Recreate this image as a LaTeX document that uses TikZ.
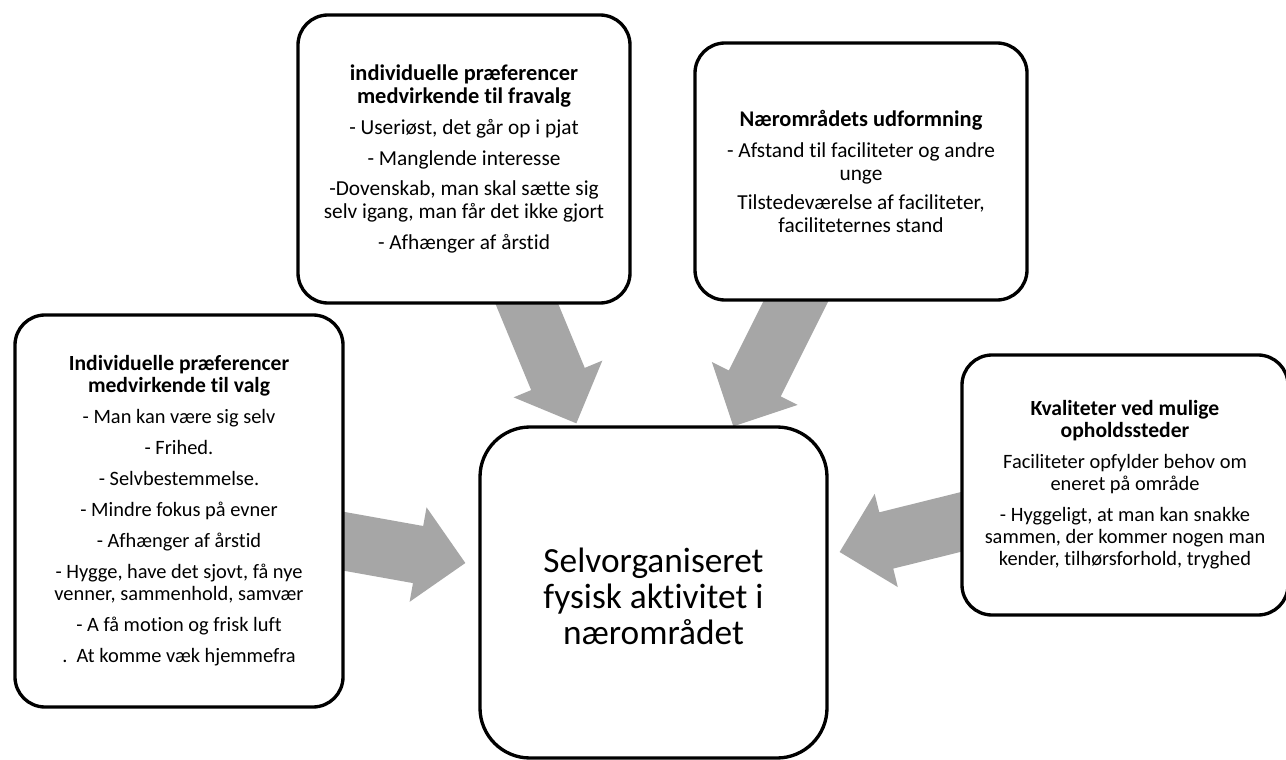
\documentclass[tikz,border=0pt]{standalone}
\usepackage{fontspec}
\setmainfont{Carlito}[Ligatures=NoCommon]
\usetikzlibrary{backgrounds,calc}
\definecolor{arrowgray}{RGB}{166,166,166}
% broad block arrow from #1 (tail, hidden under its box) to #2 (tip)
\newcommand\fatarrow[2]{%
  \coordinate (#1#2base) at ($(#2)!36pt!(#1)$);
  \fill[arrowgray]
    ($(#1)!21.75pt!90:(#2)$) -- ($(#1#2base)!21.75pt!90:(#2)$) --
    ($(#1#2base)!36pt!90:(#2)$) -- (#2) --
    ($(#1#2base)!36pt!-90:(#2)$) -- ($(#1#2base)!21.75pt!-90:(#2)$) --
    ($(#1)!21.75pt!-90:(#2)$) -- cycle;}
% headings of the outer boxes
\newcommand\headA[1]{{\fontsize{16.8}{17.25}\selectfont\bfseries #1}}
\newcommand\headB[1]{{\fontsize{16.2}{16.5}\selectfont\bfseries #1}}
\begin{document}
\begin{tikzpicture}[x=0.75pt, y=-0.75pt,
  panel/.style={draw, line width=2.5pt, fill=white, rounded corners=22.5pt,
    align=center, inner sep=0pt},
  small/.style={font=\fontsize{16}{17.25}\selectfont},
  smaller/.style={font=\fontsize{15.3}{16.5}\selectfont}]
\useasboundingbox (0,0) rectangle (1286,760);
\clip (0,0) rectangle (1286,760);

\node[panel, small, minimum width=249pt, minimum height=216pt] (fravalg) at (464,159)
  {\headA{individuelle præferencer}\\
   \headA{medvirkende  til fravalg}\\[5.75pt]
   - Useriøst, det går op i pjat\\[5.75pt]
   - Manglende interesse\\[5.75pt]
   -Dovenskab, man skal sætte sig\\
   selv igang, man får det ikke gjort\\[5.75pt]
   - Afhænger af årstid};

\node[panel, small, minimum width=249pt, minimum height=192.75pt] (naer) at (861,171.5)
  {\headA{Nærområdets udformning}\\[6pt]
   - Afstand til faciliteter og andre\\
   unge\\[4pt]
   Tilstedeværelse af faciliteter,\\
   faciliteternes stand};

\node[panel, smaller, minimum width=246pt, minimum height=294pt] (valg) at (179,511)
  {\headB{Individuelle præferencer}\\
   \headB{medvirkende til valg}\\[6.75pt]
   - Man kan være sig selv\\[6.75pt]
   - Frihed.\\[6.75pt]
   - Selvbestemmelse.\\[6.75pt]
   - Mindre fokus på evner\\[6.75pt]
   - Afhænger af årstid\\[6.75pt]
   - Hygge, have det sjovt, få nye\\
   venner, sammenhold, samvær\\[6.75pt]
   - A få motion og frisk luft\\[6.75pt]
   .\ \ At komme væk hjemmefra};

\node[panel, smaller, minimum width=244.5pt, minimum height=195pt] (kval) at (1125,485)
  {\headB{Kvaliteter ved mulige}\\
   \headB{opholdssteder}\\[6.75pt]
   Faciliteter opfylder behov om\\
   eneret på område\\[6.75pt]
   - Hyggeligt, at man kan snakke\\
   sammen, der kommer nogen man\\
   kender, tilhørsforhold, tryghed};

\node[panel, rounded corners=37.5pt, minimum width=260.25pt, minimum height=248.25pt,
  font=\fontsize{26.5}{27}\selectfont] (center) at (653.5,592.5)
  {\rule{0pt}{24pt}Selvorganiseret\\ fysisk aktivitet i\\ nærområdet};

% arrow ends: tails inside the outer boxes, tips at the central box
\coordinate (a1s) at ($(fravalg)+(48,109)$);
\coordinate (a1t) at ($(center.north west)+(98,-2)$);
\coordinate (a2s) at ($(naer)+(-48,95.5)$);
\coordinate (a2t) at ($(center.north west)+(255,1)$);
\coordinate (a3s) at ($(valg)+(127,23.5)$);
\coordinate (a3t) at ($(center.west)+(-13,-29.5)$);
\coordinate (a4s) at ($(kval)+(-124,27)$);
\coordinate (a4t) at ($(center.east)+(11,-40.5)$);

\begin{pgfonlayer}{background}
  \fill[white] (0,0) rectangle (1286,760);
  \fatarrow{a1s}{a1t}
  \fatarrow{a2s}{a2t}
  \fatarrow{a3s}{a3t}
  \fatarrow{a4s}{a4t}
\end{pgfonlayer}
\end{tikzpicture}
\end{document}
